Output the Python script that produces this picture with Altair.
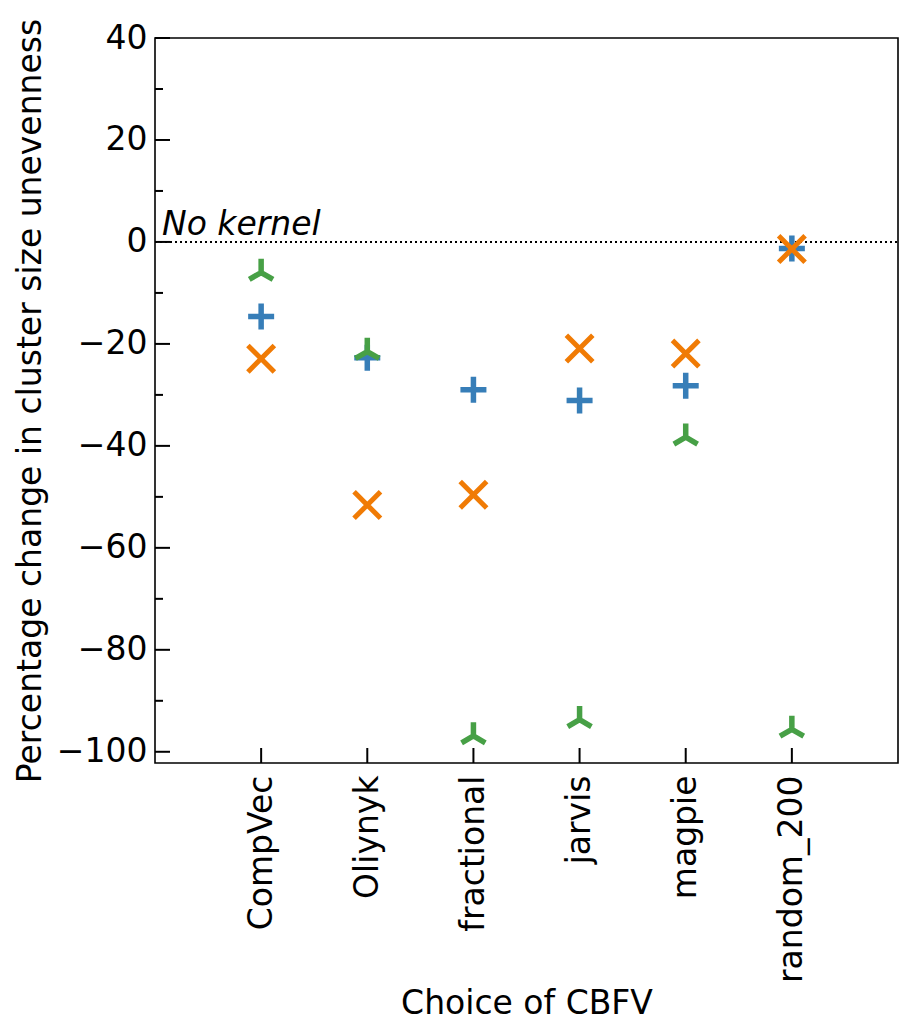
import json
import altair as alt
import pandas as pd

# ---------------- data ----------------
categories = ["CompVec", "Oliynyk", "fractional", "jarvis", "magpie", "random_200"]
plus_values = [-14.6, -22.7, -29.0, -31.1, -28.2, -1.3]
cross_values = [-22.9, -51.6, -49.6, -20.9, -21.9, -1.4]
tri_values = [-6.0, -21.5, -96.9, -93.7, -38.3, -95.6]
y_major = [40, 20, 0, -20, -40, -60, -80, -100]
y_minor = [30, 10, -10, -30, -50, -70, -90]
x_domain = [-1, 6]
y_domain = [-102.2, 40]
reference_value = [0]
reference_label = ["No kernel"]

# ---------------- style ----------------
W, H = 743, 725
FONT = "DejaVu Sans"
FS = 33
BLUE = "#377eb8"
ORANGE = "#f07b05"
GREEN = "#47a046"

label_expr = json.dumps(categories) + "[datum.value]"


def xenc(field="idx"):
    return alt.X(
        f"{field}:Q",
        scale=alt.Scale(domain=x_domain, nice=False, zero=False),
        axis=alt.Axis(
            values=list(range(len(categories))),
            labelExpr=label_expr,
            labelAngle=270,
            labelAlign="right",
            labelBaseline="middle",
            labelPadding=12,
            labelLimit=0,
            ticks=False,
            tickSize=0,
            domain=False,
            grid=False,
            title="Choice of CBFV",
            titleX=W / 2,
            titleY=240,
            titleBaseline="middle",
            titleAlign="center",
            labelOverlap=False,
        ),
    )


def yenc(field="value"):
    return alt.Y(
        f"{field}:Q",
        scale=alt.Scale(domain=y_domain, nice=False, zero=False),
        axis=alt.Axis(
            values=y_major,
            labelPadding=8,
            labelLimit=0,
            ticks=False,
            tickSize=0,
            domain=False,
            grid=False,
            title="Percentage change in cluster size unevenness",
            titleX=-125,
            titleY=H / 2,
            titleAngle=270,
            titleBaseline="middle",
            titleAlign="center",
            titleLimit=0,
            labelOverlap=False,
        ),
    )


idx = list(range(len(categories)))

# inward ticks
ymaj = alt.Chart(pd.DataFrame({"value": y_major})).mark_rule(color="black", strokeWidth=2).encode(
    y=yenc(), x=alt.value(0), x2=alt.value(15)
)
ymin = alt.Chart(pd.DataFrame({"value": y_minor})).mark_rule(color="black", strokeWidth=2).encode(
    y=yenc(), x=alt.value(0), x2=alt.value(8)
)
xmaj = alt.Chart(pd.DataFrame({"idx": idx})).mark_rule(color="black", strokeWidth=2).encode(
    x=xenc(), y=alt.value(H), y2=alt.value(H - 15)
)

# reference line
ref_df = pd.DataFrame({"idx": [x_domain[0]], "x2": [x_domain[1]], "value": reference_value,
                       "label": reference_label})
ref_line = alt.Chart(ref_df).mark_rule(color="black", strokeWidth=2, strokeDash=[2, 3]).encode(
    x=xenc(), x2=alt.X2("x2:Q"), y=yenc()
)
ref_text = alt.Chart(ref_df).mark_text(
    align="left", baseline="alphabetic", dx=7, dy=-7, font=FONT, fontSize=FS,
    fontStyle="italic", color="black"
).encode(x=xenc(), y=yenc(), text="label:N")

PLUS = "M-1,0L1,0M0,-1L0,1"
CROSS = "M-1,-1L1,1M-1,1L1,-1"
TRI_UP = "M0,0L0,-1M0,0L-0.866,0.5M0,0L0.866,0.5"


def points(values, path, color, size, sw):
    df = pd.DataFrame({"idx": idx, "value": values, "category": categories})
    return alt.Chart(df).mark_point(
        shape=path, filled=False, color=color, stroke=color, strokeWidth=sw,
        size=size, opacity=1, strokeCap="butt"
    ).encode(x=xenc(), y=yenc())


p_plus = points(plus_values, PLUS, BLUE, 676, 5.5)
p_cross = points(cross_values, CROSS, ORANGE, 700, 5)
p_tri = points(tri_values, TRI_UP, GREEN, 750, 5.5)

chart = alt.layer(ref_line, ymaj, ymin, xmaj, ref_text, p_plus, p_cross, p_tri).properties(
    width=W,
    height=H,
    padding={"left": 147, "top": 30, "right": 8, "bottom": 262},
    autosize=alt.AutoSizeParams(type="none"),
).configure_view(
    stroke="black", strokeWidth=1.6
).configure_axis(
    labelFont=FONT, labelFontSize=FS, labelColor="black",
    titleFont=FONT, titleFontSize=FS, titleColor="black", titleFontWeight="normal",
)

chart.save("out.html", embed_options={"renderer": "svg", "actions": False})
